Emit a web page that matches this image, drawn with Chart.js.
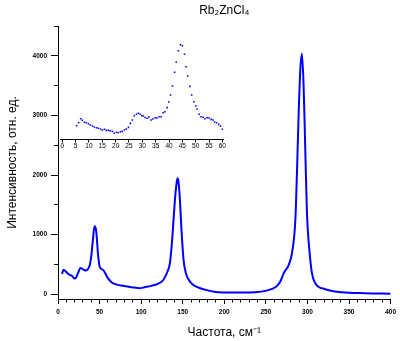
<!DOCTYPE html>
<html>
<head>
<meta charset="utf-8">
<script src="https://cdn.jsdelivr.net/npm/chart.js@4.4.0/dist/chart.umd.min.js"></script>
<style>
  html, body { margin: 0; padding: 0; background: #fff; }
  #wrap { position: relative; width: 400px; height: 341px; }
  #main { position: absolute; left: 0; top: 0; }
  #inset { position: absolute; left: 55px; top: 30px; }
</style>
</head>
<body>
<div id="wrap">
  <canvas id="main" width="400" height="341"></canvas>
  <canvas id="inset" width="175" height="122"></canvas>
</div>
<script>
// main spectrum
const mainX = [4.8, 6.8, 10, 14, 16.8, 20, 22, 24, 26.4, 27.2, 31, 33.5, 36, 38.3, 40, 42, 44, 46, 48, 50.3,
  54, 56.8, 60, 64, 68, 76, 84, 92, 98, 104, 112, 120, 126, 128, 131.7, 134.6, 137, 139, 141, 143, 143.8,
  144.8, 146.6, 148.5, 151, 153.8, 159.7, 167.7, 177.7, 189.7, 205.6, 221.6, 237.6, 249.6, 257.5, 263.5,
  268, 271.5, 277.5, 281.4, 285.5, 287.4, 289.5, 291.5, 293.4, 295.4, 297.4, 299.4, 302.3, 305.4, 309.4,
  321.4, 341.3, 369.3, 400];
const mainY = [342, 410, 371, 325, 308, 263, 286, 354, 432, 438, 410, 398, 421, 494, 634, 916, 1140, 1056, 691, 455,
  410, 354, 270, 207, 174, 145, 128, 111, 101, 118, 140, 174, 229, 270, 381, 523, 860, 1253, 1646, 1900, 1945,
  1900, 1590, 1084, 578, 354, 196, 118, 73, 39, 27, 27, 34, 56, 89, 140,
  230, 354, 494, 691, 1253, 2040, 3052, 3782, 4035, 3500, 2433, 1366, 747, 354, 185,
  84, 34, 17, 10];

// inset: measured points 5..60 cm-1
const insetX = [5.4, 6.1, 6.9, 7.5, 8.3, 9.0, 9.8, 10.5, 11.3, 12.0, 12.8, 13.5, 14.3, 15.0, 15.8, 16.5, 17.3, 18.0,
  18.8, 19.5, 20.3, 21.0, 21.8, 22.5, 23.3, 24.0, 24.8, 25.5, 26.3, 27.0, 27.8, 28.5, 29.2, 29.8, 30.3, 31.0,
  31.8, 32.5, 33.3, 34.0, 34.8, 35.5, 36.3, 37.0, 37.8, 38.5, 39.3, 39.9, 40.6, 41.3, 42.1, 42.7, 43.5, 44.3,
  45.0, 45.8, 46.4, 47.0, 47.8, 48.5, 49.3, 50.0, 50.5, 51.3, 52.0, 52.8, 53.5, 54.3, 55.0, 55.8, 56.5, 57.1,
  57.8, 58.6, 59.3, 60.0];
const insetY = [344, 373, 412, 397, 377, 373, 364, 351, 341, 331, 325, 319, 312, 302, 309, 299, 299, 295,
  289, 270, 280, 276, 286, 289, 302, 312, 328, 367, 400, 441, 455, 465, 455, 441, 438, 425,
  416, 429, 400, 409, 422, 419, 432, 432, 471, 481, 520, 575, 643, 731, 864, 965, 1074, 1133,
  1123, 1039, 918, 828, 727, 643, 578, 536, 507, 455, 432, 426, 412, 422, 419, 406, 400, 380,
  373, 357, 341, 309];

const xTicks = [0, 10, 20, 30, 40, 50, 60, 70, 80, 90, 100, 110, 120, 130, 140, 150, 160, 170, 180, 190, 200,
  210, 220, 230, 240, 250, 260, 270, 280, 290, 300, 310, 320, 330, 340, 350, 360, 370, 380, 390, 400];
const yTicks = [0, 500, 1000, 1500, 2000, 2500, 3000, 3500, 4000, 4500];
const insetTicks = [0, 5, 10, 15, 20, 25, 30, 35, 40, 45, 50, 55, 60];

Chart.defaults.font.family = 'Arial, "Liberation Sans", sans-serif';
Chart.defaults.color = '#000';

new Chart(document.getElementById('main'), {
  type: 'scatter',
  data: {
    datasets: [{
      data: mainX.map((x, i) => ({ x: x, y: mainY[i] })),
      showLine: true,
      borderColor: '#0000ff',
      borderWidth: 2,
      pointRadius: 0,
      cubicInterpolationMode: 'monotone',
      fill: false,
    }],
  },
  options: {
    responsive: false,
    animation: false,
    layout: { padding: { left: 0, right: 7, top: 0, bottom: 0 } },
    plugins: {
      legend: { display: false },
      tooltip: { enabled: false },
      title: {
        display: true,
        text: 'Rb₂ZnCl₄',
        fullSize: false,
        color: '#000',
        font: { size: 12, weight: 'normal' },
        padding: { top: 3, bottom: 8.6 },
      },
    },
    scales: {
      x: {
        type: 'linear',
        min: 0,
        max: 400,
        afterBuildTicks: s => { s.ticks = xTicks.map(v => ({ value: v })); },
        afterFit: s => { s.height = 42; },
        border: { color: '#000', width: 1 },
        grid: {
          drawOnChartArea: false,
          tickLength: 5,
          tickColor: '#000',
          tickBorderDash: ctx => (ctx.tick && ctx.tick.value % 50 ? [2.5, 100] : []),
        },
        ticks: {
          callback: v => (v % 50 === 0 ? v : ''),
          font: { size: 6.5, weight: 'bold' },
          padding: 4,
          maxRotation: 0,
          autoSkip: false,
        },
        title: {
          display: true,
          text: 'Частота, см⁻¹',
          font: { size: 12 },
          padding: { top: 0, bottom: 1 },
        },
      },
      y: {
        min: -80,
        max: 4500,
        afterBuildTicks: s => { s.ticks = yTicks.map(v => ({ value: v })); },
        afterFit: s => { s.width = 58; },
        border: { color: '#000', width: 1 },
        grid: {
          drawOnChartArea: false,
          tickLength: 7,
          tickColor: '#000',
          tickBorderDash: ctx => (ctx.tick && ctx.tick.value % 1000 ? [0, 3, 4, 100] : []),
        },
        ticks: {
          callback: v => (v % 1000 === 0 ? v : ''),
          font: { size: 6.5, weight: 'bold' },
          padding: 4,
          autoSkip: false,
        },
        title: {
          display: true,
          text: 'Интенсивность, отн. ед.',
          font: { size: 12 },
          padding: { top: 5, bottom: 0 },
        },
      },
    },
  },
});

// inset chart drawn over the main one
new Chart(document.getElementById('inset'), {
  type: 'scatter',
  data: {
    datasets: [{
      data: insetX.map((x, i) => ({ x: x, y: insetY[i] })),
      pointStyle: 'rect',
      pointRadius: 1.1,
      backgroundColor: '#0000ff',
      borderWidth: 0,
    }],
  },
  options: {
    responsive: false,
    animation: false,
    layout: { padding: { left: 5, right: 6.7, top: 4.7, bottom: 0 } },
    plugins: { legend: { display: false }, tooltip: { enabled: false } },
    scales: {
      x: {
        type: 'linear',
        min: -0.85,
        max: 60.35,
        afterBuildTicks: s => { s.ticks = insetTicks.map(v => ({ value: v })); },
        afterFit: s => { s.height = 12.5; },
        border: { color: '#000', width: 1 },
        grid: { drawOnChartArea: false, tickLength: 3, tickColor: '#000' },
        ticks: { font: { size: 6.5 }, padding: 0, maxRotation: 0, autoSkip: false },
      },
      y: { display: false, min: 210, max: 1230 },
    },
  },
});
</script>
</body>
</html>
